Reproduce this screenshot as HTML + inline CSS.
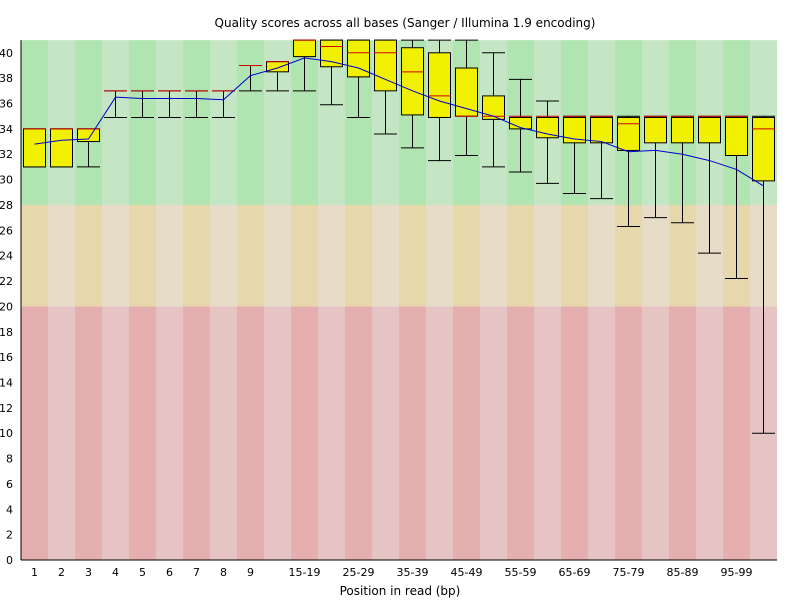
<!DOCTYPE html>
<html><head><meta charset="utf-8"><style>
body{margin:0;background:#fff;}
svg{display:block;font-family:"DejaVu Sans","Liberation Sans",sans-serif;}
</style></head><body>
<svg id="chart" width="800" height="600" xmlns="http://www.w3.org/2000/svg">
<rect width="800" height="600" fill="#fff"/>
<text x="405" y="27" font-size="12" text-anchor="middle">Quality scores across all bases (Sanger / Illumina 1.9 encoding)</text>
<text x="400" y="595" font-size="12" text-anchor="middle">Position in read (bp)</text>
<g id="bg"></g><g id="marks"></g><g id="axes"></g>
</svg>
<script>
const categories=["1","2","3","4","5","6","7","8","9","10-14","15-19","20-24","25-29","30-34","35-39","40-44","45-49","50-54","55-59","60-64","65-69","70-74","75-79","80-84","85-89","90-94","95-99","100-101"];
const xLabels=["1","2","3","4","5","6","7","8","9","","15-19","","25-29","","35-39","","45-49","","55-59","","65-69","","75-79","","85-89","","95-99",""];
const medians=[34,34,34,37,37,37,37,37,39,39.3,41,40.5,40,40,38.5,36.6,35,35,35,35,35,35,34.4,35,35,35,35,34];
const q1s=[31,31,33,37,37,37,37,37,39,38.5,39.7,38.9,38.1,37,35.1,34.9,35,34.75,34,33.3,32.9,32.9,32.3,32.9,32.9,32.9,31.9,29.9];
const q3s=[34,34,34,37,37,37,37,37,39,39.3,41,41,41,41,40.4,40,38.8,36.6,34.9,34.9,34.9,34.9,34.9,34.9,34.9,34.9,34.9,34.9];
const lows=[31,31,31,34.9,34.9,34.9,34.9,34.9,37,37,37,35.9,34.9,33.6,32.5,31.5,31.9,31,30.6,29.7,28.9,28.5,26.3,27,26.6,24.2,22.2,10];
const highs=[34,34,34,37,37,37,37,37,39,39.3,41,41,41,41,41,41,41,40,37.9,36.2,35,35,35,35,35,35,35,35];
const means=[32.8,33.1,33.2,36.5,36.4,36.4,36.4,36.3,38.2,38.8,39.6,39.3,38.8,37.9,37,36.2,35.6,35,34.1,33.6,33.2,33,32.2,32.3,32,31.5,30.8,29.5];
const yTicks=[0,2,4,6,8,10,12,14,16,18,20,22,24,26,28,30,32,34,36,38,40];
const X0=21,CW=27,Y0=560,K=12.68,YMAX=41;
const y=v=>Y0-v*K;
const x=i=>X0+i*CW;
const NS="http://www.w3.org/2000/svg";
function mk(tag,attrs,parent){const e=document.createElementNS(NS,tag);for(const k in attrs)e.setAttribute(k,attrs[k]);parent.appendChild(e);return e;}
const bg=document.getElementById('bg'),marks=document.getElementById('marks'),axes=document.getElementById('axes');
const bands=[[28,YMAX,"#b0e4b0","#c4e6c4","good"],[20,28,"#e6d8aa","#e6dcc8","ok"],[0,20,"#e6afaf","#e6c4c4","poor"]];
categories.forEach((c,i)=>{
  bands.forEach(b=>{
    const r=mk('rect',{x:x(i),y:y(b[1]),width:CW,height:y(b[0])-y(b[1]),fill:i%2===0?b[2]:b[3]},bg);
    
    
  });
});
categories.forEach((c,i)=>{
  const cx=x(i)+CW/2,l=x(i)+2,w=CW-4;
  const g=mk('g',{},marks);
  
  
  mk('line',{x1:cx,x2:cx,y1:y(highs[i]),y2:y(q3s[i]),stroke:"#000"},g);
  mk('line',{x1:cx,x2:cx,y1:y(q1s[i]),y2:y(lows[i]),stroke:"#000"},g);
  mk('line',{x1:l,x2:l+w,y1:y(highs[i]),y2:y(highs[i]),stroke:"#000"},g);
  mk('line',{x1:l,x2:l+w,y1:y(lows[i]),y2:y(lows[i]),stroke:"#000"},g);
  if(q3s[i]-q1s[i]>0.05) mk('rect',{x:l+0.5,y:y(q3s[i]),width:w-1,height:y(q1s[i])-y(q3s[i]),fill:"#f0f000",stroke:"#000"},g);
  mk('line',{x1:l,x2:l+w,y1:y(medians[i]),y2:y(medians[i]),stroke:"#d00000"},g);
});
let pts=means.map((m,i)=>(x(i)+CW/2)+","+y(m)).join(" ");
const pl=mk('polyline',{points:pts,fill:"none",stroke:"#0000d0","stroke-width":1},marks);


mk('line',{x1:X0,x2:X0,y1:y(YMAX),y2:Y0,stroke:"#000"},axes);
mk('line',{x1:X0,x2:X0+28*CW,y1:Y0,y2:Y0,stroke:"#000"},axes);
yTicks.forEach(t=>{
  const e=mk('text',{x:13,y:y(t)+4,"font-size":11,"text-anchor":"end"},axes);
  e.textContent=t;
  
  
});
xLabels.forEach((t,i)=>{
  if(!t)return;
  const e=mk('text',{x:x(i)+CW/2,y:576,"font-size":11,"text-anchor":"middle"},axes);
  e.textContent=t;
  
  
});
</script>
</body></html>
